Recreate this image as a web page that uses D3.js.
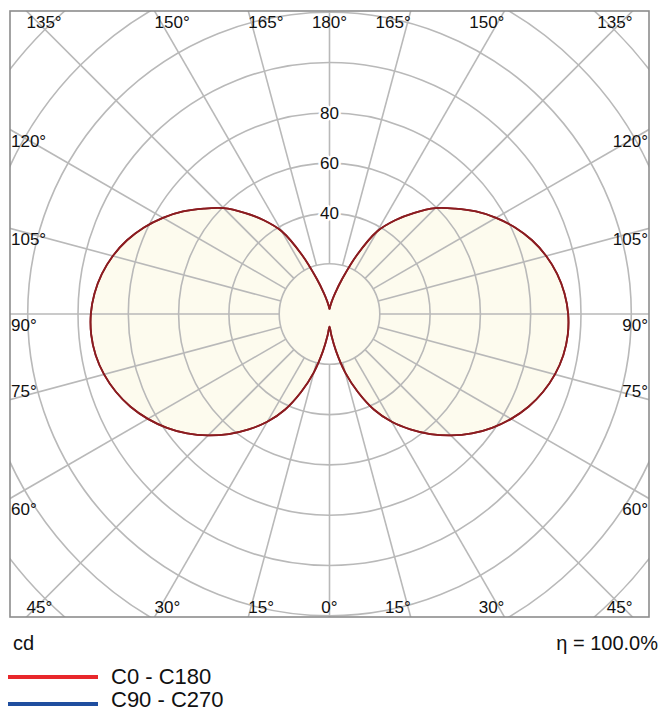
<!DOCTYPE html>
<html>
<head>
<meta charset="utf-8">
<script src="https://cdn.jsdelivr.net/npm/d3@7"></script>
<style>
  body { margin: 0; background: #fff; }
  svg { display: block; font-family: Arial, "Liberation Sans", sans-serif; }
</style>
</head>
<body>
<svg width="661" height="710"></svg>
<script>
// gamma angles (0 = straight down, 180 = straight up)
const GAMMA = [0, 5, 10, 15, 20, 25, 30, 35, 40, 45, 50, 55, 60, 65, 70, 75, 80, 85, 90,
  95, 100, 105, 110, 115, 120, 125, 130, 135, 140, 145, 150, 155, 160, 165, 170, 175, 180];
// luminous intensity, cd
const C0_C180 = [5, 8.5, 15, 24, 33, 42, 49.5, 56, 62.3, 68.3, 73.9, 78.9, 83.4, 87.3, 90.4, 92.8, 94.4, 95.1, 94.9,
  93.8, 91.9, 89.2, 85.7, 81.4, 76.5, 71.1, 65.2, 59.5, 52.5, 45.5, 38, 26, 15, 8.5, 5, 3, 2];
const C90_C270 = C0_C180.slice();
const RINGS = [20, 40, 60, 80, 100, 120, 140, 160];
const RING_LABELS = [40, 60, 80];
const SPOKES = [0, 15, 30, 45, 60, 75, 90, 105, 120, 135, 150, 165, 180];
const SPOKE_LABEL_ABOVE = [75];
const LEGEND_NAMES = ["C0 - C180", "C90 - C270"];
const LEGEND_COLORS = ["#e8272b", "#1f4e9f"];

const BOX = { left: 10, top: 11, right: 649, bottom: 617 };
const CX = (BOX.left + BOX.right) / 2;
const CY = (BOX.top + BOX.bottom) / 2;
const GRID = "#b9b9b9";

const r = d3.scaleLinear().domain([0, 20]).range([0, 50.3]);
const rad = d => d * Math.PI / 180;

const svg = d3.select("svg");

svg.append("defs").append("clipPath").attr("id", "box")
  .append("rect")
  .attr("x", BOX.left).attr("y", BOX.top)
  .attr("width", BOX.right - BOX.left).attr("height", BOX.bottom - BOX.top);

// layers, bottom to top
const fillLayer = svg.append("g").attr("transform", `translate(${CX},${CY})`);
const grid = svg.append("g").attr("clip-path", "url(#box)")
  .append("g").attr("transform", `translate(${CX},${CY})`);
const curveLayer = svg.append("g").attr("transform", `translate(${CX},${CY})`);
const frameLayer = svg.append("g");
const labelLayer = svg.append("g").attr("transform", `translate(${CX},${CY})`);

// curve: right half (C0) from bottom to top, then left half (C180) back down
function curvePoints(values) {
  let pts = [];
  GAMMA.forEach((g, i) => pts.push([Math.PI - rad(g), r(values[i])]));
  for (let i = GAMMA.length - 2; i >= 1; i--) {
    pts.push([rad(GAMMA[i]) - Math.PI, r(values[i])]);
  }
  return pts;
}

const line = d3.lineRadial()
  .angle(d => d[0])
  .radius(d => d[1])
  .curve(d3.curveCatmullRomClosed);

fillLayer.append("path")
  .attr("d", line(curvePoints(C0_C180)))
  .attr("fill", "#fdfbee")
  .attr("stroke", "none");

// grid
grid.selectAll("circle")
  .data(RINGS)
  .join("circle")
  .attr("r", d => r(d))
  .attr("fill", "none")
  .attr("stroke", GRID)
  .attr("stroke-width", 1.6);

// where a ray at gamma on a given side meets the frame
function hit(g, side) {
  const dx = side * Math.sin(rad(g));
  const dy = Math.cos(rad(g));
  const kx = dx > 1e-9 ? (BOX.right - CX) / dx : dx < -1e-9 ? (BOX.left - CX) / dx : Infinity;
  const ky = dy > 1e-9 ? (BOX.bottom - CY) / dy : dy < -1e-9 ? (BOX.top - CY) / dy : Infinity;
  const k = Math.min(kx, ky);
  let edge;
  if (ky <= kx) edge = dy > 0 ? "bottom" : "top";
  else edge = dx > 0 ? "right" : "left";
  return { x: CX + k * dx, y: CY + k * dy, dx, dy, k, edge };
}

let spokes = [];
SPOKES.forEach(g => {
  if (g === 0 || g === 180) spokes.push({ g, side: 1, mid: true });
  else {
    spokes.push({ g, side: -1 });
    spokes.push({ g, side: 1 });
  }
});
spokes.forEach(s => Object.assign(s, hit(s.g, s.side)));

grid.selectAll("line")
  .data(spokes)
  .join("line")
  .attr("x1", d => d.dx * r(RINGS[0]))
  .attr("y1", d => d.dy * r(RINGS[0]))
  .attr("x2", d => d.dx * (d.k + 5))
  .attr("y2", d => d.dy * (d.k + 5))
  .attr("stroke", GRID)
  .attr("stroke-width", 1.6);

// curves (both planes are the same)
curveLayer.append("path")
  .attr("d", line(curvePoints(C90_C270)))
  .attr("fill", "none")
  .attr("stroke", "#8b1c20")
  .attr("stroke-width", 1.8);

curveLayer.append("path")
  .attr("d", line(curvePoints(C0_C180)))
  .attr("fill", "none")
  .attr("stroke", "#8b1c20")
  .attr("stroke-width", 1.8);

// frame
frameLayer.append("rect")
  .attr("x", BOX.left).attr("y", BOX.top)
  .attr("width", BOX.right - BOX.left).attr("height", BOX.bottom - BOX.top)
  .attr("fill", "none")
  .attr("stroke", "#8c8c8c")
  .attr("stroke-width", 1.6);

// ring labels
labelLayer.selectAll("text")
  .data(RING_LABELS)
  .join("text")
  .attr("x", 0)
  .attr("y", d => -r(d) + 6)
  .attr("text-anchor", "middle")
  .attr("font-size", 17)
  .attr("fill", "#111")
  .attr("stroke", "#fff")
  .attr("stroke-width", 5)
  .attr("stroke-linejoin", "round")
  .attr("paint-order", "stroke")
  .text(d => d);

// angle labels
frameLayer.append("g").selectAll("text")
  .data(spokes)
  .join("text")
  .attr("font-size", 17)
  .attr("fill", "#111")
  .each(function (d) {
    const t = d3.select(this);
    let x, y, anchor;
    if (d.edge === "top" || d.edge === "bottom") {
      x = d.x;
      y = d.edge === "top" ? BOX.top + 16.5 : BOX.bottom - 4;
      anchor = d.mid ? "middle" : d.side > 0 ? "end" : "start";
    } else {
      x = d.edge === "left" ? BOX.left + 1 : BOX.right - 1;
      y = SPOKE_LABEL_ABOVE.includes(d.g) ? d.y - 3 : d.y + 17;
      anchor = d.edge === "left" ? "start" : "end";
    }
    t.attr("x", x).attr("y", y).attr("text-anchor", anchor).text(d.g + "°");
  });

// unit and efficiency
svg.append("text")
  .attr("x", 13).attr("y", 650)
  .attr("font-size", 20)
  .attr("fill", "#111")
  .text("cd");

svg.append("text")
  .attr("x", 658).attr("y", 650)
  .attr("text-anchor", "end")
  .attr("font-size", 20)
  .attr("fill", "#111")
  .text("η = 100.0%");

// legend
const legend = svg.append("g").selectAll("g")
  .data(LEGEND_NAMES)
  .join("g");

legend.append("line")
  .attr("x1", 8).attr("x2", 98)
  .attr("y1", (d, i) => 677 + i * 27)
  .attr("y2", (d, i) => 677 + i * 27)
  .attr("stroke", (d, i) => LEGEND_COLORS[i])
  .attr("stroke-width", 4);

legend.append("text")
  .attr("x", 111)
  .attr("y", (d, i) => 684 + i * 23)
  .attr("font-size", 22)
  .attr("fill", "#111")
  .text(d => d);
</script>
</body>
</html>
